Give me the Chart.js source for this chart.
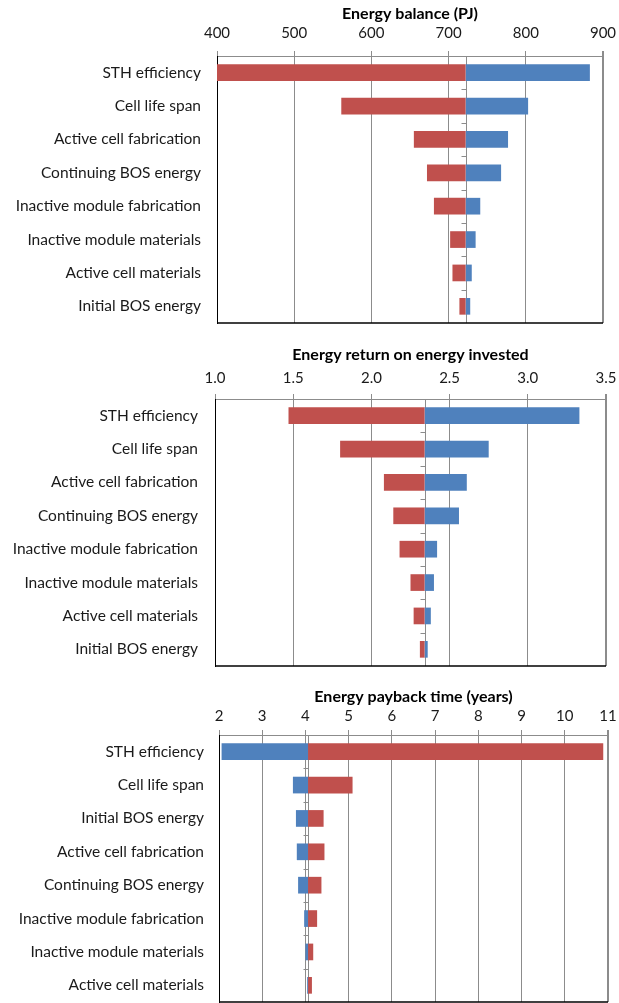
<!DOCTYPE html>
<html>
<head>
<meta charset="utf-8">
<script src="https://cdn.jsdelivr.net/npm/chart.js@4/dist/chart.umd.min.js"></script>
<style>
  html, body { margin: 0; padding: 0; background: #fff; overflow: hidden; }
  canvas { position: absolute; left: 0; }
</style>
</head>
<body>
<canvas id="balance" width="619" height="340" style="top:0"></canvas>
<canvas id="eroi" width="619" height="340" style="top:340px"></canvas>
<canvas id="payback" width="619" height="330" style="top:680px"></canvas>
<script>
// Sensitivity data
const mainCategories = ['STH efficiency', 'Cell life span', 'Active cell fabrication', 'Continuing BOS energy',
  'Inactive module fabrication', 'Inactive module materials', 'Active cell materials', 'Initial BOS energy'];
const paybackCategories = ['STH efficiency', 'Cell life span', 'Initial BOS energy', 'Active cell fabrication',
  'Continuing BOS energy', 'Inactive module fabrication', 'Inactive module materials', 'Active cell materials'];

const balanceBase = 722;
const balanceLow = [400, 561, 655, 672, 681, 702, 705, 714];
const balanceHigh = [883, 803, 777, 768, 741, 735, 730, 728];
const balanceTicks = [400, 500, 600, 700, 800, 900];

const eroiBase = 2.34;
const eroiLow = [1.47, 1.80, 2.08, 2.14, 2.18, 2.25, 2.27, 2.31];
const eroiHigh = [3.33, 2.75, 2.61, 2.56, 2.42, 2.40, 2.38, 2.36];
const eroiTicks = [1.0, 1.5, 2.0, 2.5, 3.0, 3.5];

const paybackBase = 4.06;
const paybackLow = [2.06, 3.71, 3.78, 3.80, 3.83, 3.97, 4.00, 4.04];
const paybackHigh = [10.89, 5.09, 4.42, 4.44, 4.37, 4.27, 4.18, 4.15];
const paybackTicks = [2, 3, 4, 5, 6, 7, 8, 9, 10, 11];

const RED = '#C0504D';
const BLUE = '#4F81BD';
const GRID = '#8c8c8c';

Chart.defaults.font.family = 'Lato, "Open Sans", sans-serif';
Chart.defaults.font.size = 15;
Chart.defaults.color = '#1a1a1a';

// base line with small category ticks, plus the black bottom edge
const framePlugin = {
  id: 'frame',
  beforeDatasetsDraw(chart, args, opts) {
    const { ctx, chartArea: a, scales: { x, y } } = chart;
    const bx = Math.round(x.getPixelForValue(opts.base)) + 0.5;
    const band = y.getPixelForValue(1) - y.getPixelForValue(0);
    ctx.save();
    ctx.strokeStyle = GRID;
    ctx.lineWidth = 1;
    ctx.beginPath();
    ctx.moveTo(bx, a.top);
    ctx.lineTo(bx, a.bottom);
    for (let i = 1; i < y.ticks.length; i++) {
      const yy = Math.round(y.getPixelForValue(i) - band / 2) + 0.5;
      ctx.moveTo(bx - 5, yy);
      ctx.lineTo(bx, yy);
    }
    ctx.stroke();
    ctx.restore();
  },
  afterDraw(chart) {
    const { ctx, chartArea: a } = chart;
    ctx.save();
    ctx.strokeStyle = '#000';
    ctx.lineWidth = 1.5;
    ctx.beginPath();
    ctx.moveTo(a.left, a.bottom);
    ctx.lineTo(a.right, a.bottom);
    ctx.stroke();
    ctx.restore();
  }
};

function makeTornado(id, cfg) {
  const canvas = document.getElementById(id);
  const toRange = vals => vals.map(v => [cfg.base, v]);
  return new Chart(canvas.getContext('2d'), {
    type: 'bar',
    data: {
      labels: cfg.labels,
      datasets: [
        { data: toRange(cfg.low), backgroundColor: cfg.lowColor },
        { data: toRange(cfg.high), backgroundColor: cfg.highColor }
      ]
    },
    options: {
      indexAxis: 'y',
      responsive: false,
      animation: false,
      grouped: false,
      categoryPercentage: 1,
      barPercentage: 0.5,
      layout: { padding: cfg.padding },
      scales: {
        x: {
          position: 'top',
          min: cfg.ticks[0],
          max: cfg.ticks[cfg.ticks.length - 1],
          afterBuildTicks: scale => { scale.ticks = cfg.ticks.map(v => ({ value: v })); },
          afterFit: scale => {
            scale.height = cfg.axisHeight;
            scale.paddingLeft = 0;
            scale.paddingRight = 0;
          },
          title: {
            display: true,
            text: cfg.title,
            color: '#000',
            font: { weight: 'bold', size: 16 },
            padding: { top: cfg.titlePad, bottom: 0 }
          },
          ticks: {
            padding: cfg.tickPad,
            font: { size: 15 },
            callback: v => cfg.format ? cfg.format(v) : v
          },
          grid: {
            color: ctx => ctx.index === 0 ? '#000' : GRID,
            lineWidth: ctx => ctx.index === cfg.ticks.length - 1 ? 2 : 1,
            tickColor: GRID,
            tickLength: 5
          },
          border: { color: GRID }
        },
        y: {
          afterFit: scale => {
            scale.width = cfg.labelWidth;
            scale.paddingTop = 0;
            scale.paddingBottom = 0;
          },
          ticks: { padding: cfg.labelPad, font: { size: 15.5 } },
          grid: { display: false, drawTicks: false },
          border: { display: true, color: '#000' }
        }
      },
      plugins: {
        legend: { display: false },
        tooltip: { enabled: false },
        frame: { base: cfg.base }
      }
    },
    plugins: [framePlugin]
  });
}

makeTornado('balance', {
  title: 'Energy balance (PJ)',
  labels: mainCategories,
  base: balanceBase, low: balanceLow, high: balanceHigh, ticks: balanceTicks,
  lowColor: RED, highColor: BLUE,
  padding: { top: 0, right: 16, bottom: 17, left: 0 },
  axisHeight: 56, titlePad: 4, tickPad: 9, labelWidth: 217, labelPad: 16
});

makeTornado('eroi', {
  title: 'Energy return on energy invested',
  labels: mainCategories,
  base: eroiBase, low: eroiLow, high: eroiHigh, ticks: eroiTicks,
  format: v => v.toFixed(1),
  lowColor: RED, highColor: BLUE,
  padding: { top: 0, right: 13, bottom: 14, left: 0 },
  axisHeight: 59, titlePad: 5, tickPad: 7, labelWidth: 215, labelPad: 17
});

makeTornado('payback', {
  title: 'Energy payback time (years)',
  labels: paybackCategories,
  base: paybackBase, low: paybackLow, high: paybackHigh, ticks: paybackTicks,
  lowColor: BLUE, highColor: RED,
  padding: { top: 0, right: 11, bottom: 8, left: 0 },
  axisHeight: 55, titlePad: 7, tickPad: 5, labelWidth: 219, labelPad: 15
});
</script>
</body>
</html>
